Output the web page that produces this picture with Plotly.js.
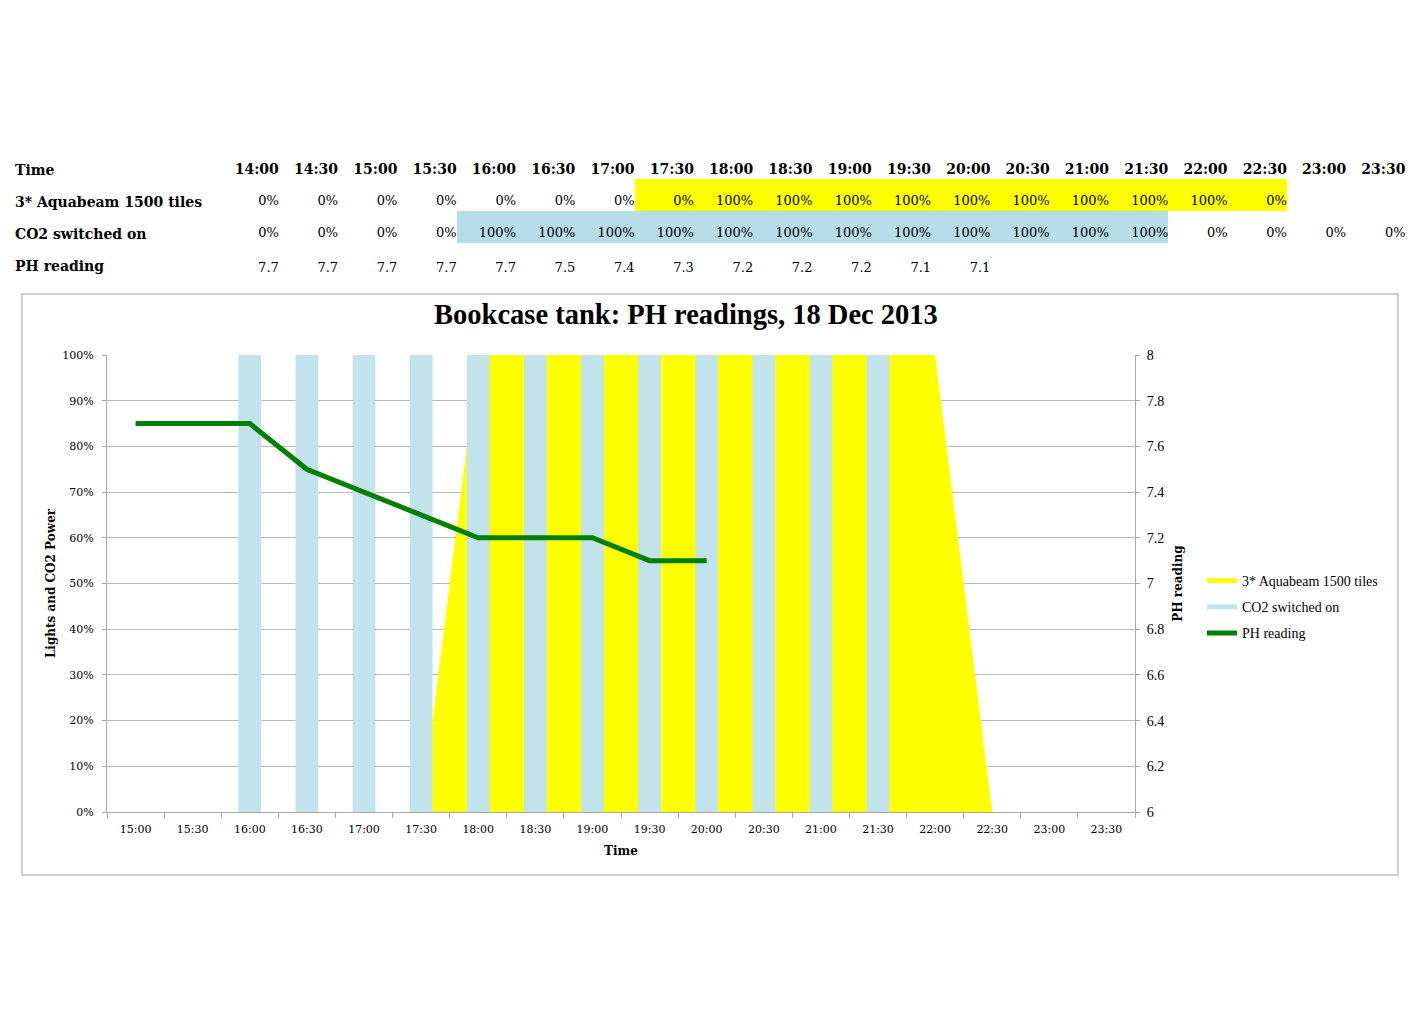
<!DOCTYPE html>
<html>
<head>
<meta charset="utf-8">
<script src="https://cdn.plot.ly/plotly-3.0.1.min.js"></script>
<style>html,body{margin:0;padding:0;background:#fff;}#chart{width:1417px;height:1023px;}</style>
</head>
<body>
<div id="chart"></div>
<script>
// ---- Data (spreadsheet table) ----
const times = ['14:00','14:30','15:00','15:30','16:00','16:30','17:00','17:30','18:00','18:30',
               '19:00','19:30','20:00','20:30','21:00','21:30','22:00','22:30','23:00','23:30'];
const rowLabels = ['Time', '3* Aquabeam 1500 tiles', 'CO2 switched on', 'PH reading'];
const lights = [0,0,0,0,0,0,0,0,1,1,1,1,1,1,1,1,1,0,null,null];
const co2    = [0,0,0,0,1,1,1,1,1,1,1,1,1,1,1,1,0,0,0,0];
const ph     = [7.7,7.7,7.7,7.7,7.7,7.5,7.4,7.3,7.2,7.2,7.2,7.1,7.1,null,null,null,null,null,null,null];
const lightsShaded = [0,0,0,0,0,0,0,1,1,1,1,1,1,1,1,1,1,1,0,0];
const co2Shaded    = [0,0,0,0,1,1,1,1,1,1,1,1,1,1,1,1,0,0,0,0];
const chartFirstColumn = 2; // the chart starts at 15:00
const chartTitle = 'Bookcase tank: PH readings, 18 Dec 2013';
const seriesNames = ['3* Aquabeam 1500 tiles', 'CO2 switched on', 'PH reading'];

// ---- Styles ----
const W = 1417, H = 1023;
const SERIF_G = 'DejaVu Serif';
const SERIF_T = 'Liberation Serif';
const YELLOW = '#ffff00', BAR_BLUE = '#c2e3ec', CELL_BLUE = '#b7dde8', GREEN = '#008000';
const GRID = '#b9b9b9', AXIS = '#a8a8a8';
const px = v => v / W, py = v => 1 - v / H;

// ---- Chart series ----
const cats = times.slice(chartFirstColumn);
const lightsChart = lights.slice(chartFirstColumn);
const co2Chart = co2.slice(chartFirstColumn);
const phChart = ph.slice(chartFirstColumn);

const fmtPct = v => (v === null || v === undefined) ? '' : Math.round(v * 100) + '%';
const fmtNum = v => (v === null || v === undefined) ? '' : String(v);
const colIdx = times.map((t, i) => i);
const TEXT_DY = 0.22;

const traces = [];
// Yellow area (lights)
traces.push({
  type: 'scatter', mode: 'lines', x: cats, y: lightsChart, xaxis: 'x', yaxis: 'y',
  fill: 'tozeroy', fillcolor: YELLOW, line: {color: YELLOW, width: 0},
  name: seriesNames[0], showlegend: false, hoverinfo: 'skip'
});
// Blue bars (CO2) on an overlay axis so they sit above the area
traces.push({
  type: 'bar', x: cats, y: co2Chart, xaxis: 'x', yaxis: 'y2',
  marker: {color: BAR_BLUE, line: {width: 0}}, name: seriesNames[1], showlegend: false, hoverinfo: 'skip'
});
// PH line on the right axis
traces.push({
  type: 'scatter', mode: 'lines', x: cats, y: phChart, xaxis: 'x', yaxis: 'y3',
  line: {color: GREEN, width: 5}, name: seriesNames[2], showlegend: false, hoverinfo: 'skip'
});
// Legend entries
[[seriesNames[0], YELLOW], [seriesNames[1], BAR_BLUE], [seriesNames[2], GREEN]].forEach((e, i) => {
  traces.push({type: 'scatter', mode: 'lines', x: [null], y: [null], xaxis: 'x', yaxis: 'y',
    name: e[0], legendgroup: 'g' + i, line: {color: e[1], width: 5}, hoverinfo: 'skip'});
});

// ---- Table ----
traces.push({
  type: 'heatmap', xaxis: 'x2', yaxis: 'y4',
  z: [times.map(() => null),
      lightsShaded.map(v => v ? 1 : null),
      co2Shaded.map(v => v ? 2 : null),
      times.map(() => null)],
  zmin: 1, zmax: 2, showscale: false, hoverinfo: 'skip',
  colorscale: [[0, YELLOW], [0.5, YELLOW], [0.5, CELL_BLUE], [1, CELL_BLUE]]
});
const tableRows = [
  times.map(t => '<b>' + t + '</b>'),
  lights.map(fmtPct),
  co2.map(fmtPct),
  ph.map(fmtNum)
];
const rowDy = [TEXT_DY, TEXT_DY, TEXT_DY, TEXT_DY + 0.1];
tableRows.forEach((row, r) => {
  traces.push({
    type: 'scatter', mode: 'text', xaxis: 'x2', yaxis: 'y4',
    x: colIdx.map(i => i + 0.5), y: colIdx.map(() => r + rowDy[r]),
    text: row, textposition: 'middle left', cliponaxis: false,
    textfont: {family: SERIF_G, size: r === 0 ? 14 : 13, color: '#000'},
    showlegend: false, hoverinfo: 'skip'
  });
});

const annotations = rowLabels.map((lab, r) => ({
  xref: 'paper', yref: 'y4', x: px(13), y: r + TEXT_DY, xanchor: 'left', yanchor: 'middle',
  text: '<b>' + lab + '</b>', showarrow: false,
  font: {family: SERIF_G, size: 14, color: '#000'}
}));

const layout = {
  width: W, height: H, autosize: false,
  margin: {l: 0, r: 0, t: 0, b: 0, pad: 0},
  paper_bgcolor: '#ffffff', plot_bgcolor: 'rgba(0,0,0,0)',
  showlegend: true,
  bargap: 0.6,
  title: {
    text: '<b>' + chartTitle + '</b>', xref: 'container', yref: 'container',
    x: px(686), xanchor: 'center', y: py(314), yanchor: 'middle',
    font: {family: SERIF_T, size: 28.5, color: '#000'}
  },
  xaxis: {
    type: 'category', categoryorder: 'array', categoryarray: cats,
    domain: [px(107), px(1135)], anchor: 'y', range: [-0.5, cats.length - 0.5],
    showline: true, linecolor: AXIS, linewidth: 1, showgrid: false,
    ticks: 'outside', tickson: 'boundaries', ticklen: 5, tickcolor: AXIS,
    tickfont: {family: SERIF_G, size: 11, color: '#000'}, ticklabelstandoff: 7,
    title: {text: '<b>Time</b>', font: {family: SERIF_G, size: 12, color: '#000'}, standoff: 11},
    fixedrange: true
  },
  yaxis: {
    domain: [py(812), py(355)], anchor: 'x', range: [0, 1], dtick: 0.1, tickformat: '.0%',
    showline: true, linecolor: AXIS, linewidth: 1, showgrid: true, gridcolor: GRID, gridwidth: 1,
    zeroline: false, ticks: 'outside', ticklen: 4, tickcolor: AXIS,
    tickfont: {family: SERIF_G, size: 11, color: '#000'}, ticklabelstandoff: 6,
    title: {text: '<b>Lights and CO2 Power</b>', font: {family: SERIF_G, size: 12, color: '#000'}, standoff: 4},
    fixedrange: true
  },
  yaxis2: {overlaying: 'y', anchor: 'x', range: [0, 1], visible: false, fixedrange: true},
  yaxis3: {
    overlaying: 'y', anchor: 'x', side: 'right', range: [6, 8], dtick: 0.2,
    showline: true, linecolor: AXIS, linewidth: 1, showgrid: false, zeroline: false,
    ticks: 'outside', ticklen: 4, tickcolor: AXIS,
    tickfont: {family: SERIF_T, size: 14, color: '#000'}, ticklabelstandoff: 4,
    title: {text: '<b>PH reading</b>', font: {family: SERIF_G, size: 12, color: '#000'}, standoff: 10},
    fixedrange: true
  },
  xaxis2: {
    domain: [px(219.5), px(1405.5)], anchor: 'y4', range: [-0.5, times.length - 0.5],
    visible: false, fixedrange: true
  },
  yaxis4: {
    domain: [py(275), py(147)], anchor: 'x2', range: [3.5, -0.5],
    visible: false, fixedrange: true
  },
  legend: {
    x: px(1202), xanchor: 'left', y: py(565), yanchor: 'top',
    font: {family: SERIF_T, size: 14, color: '#000'},
    bgcolor: 'rgba(0,0,0,0)', borderwidth: 0, tracegroupgap: 5, traceorder: 'grouped'
  },
  shapes: [{
    type: 'rect', xref: 'paper', yref: 'paper', layer: 'below',
    x0: px(22), x1: px(1398), y0: py(875), y1: py(294),
    line: {color: '#c0c0c0', width: 1.5}, fillcolor: 'rgba(0,0,0,0)'
  }],
  annotations: annotations
};

Plotly.newPlot('chart', traces, layout, {displayModeBar: false, staticPlot: true});
</script>
</body>
</html>
